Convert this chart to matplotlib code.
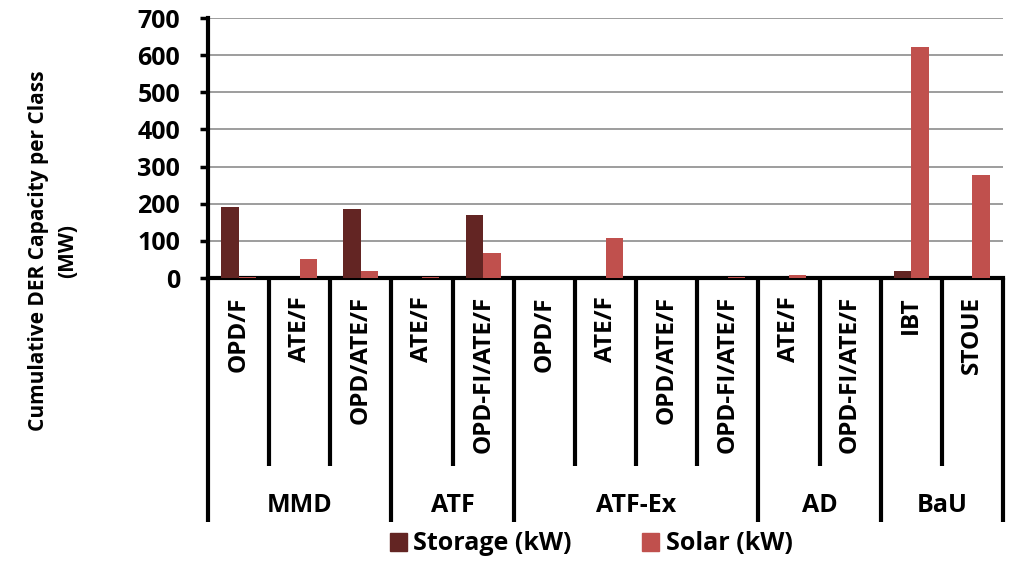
import matplotlib
matplotlib.use("Agg")
import matplotlib.pyplot as plt
import numpy as np
from matplotlib.patches import Patch

plt.rcParams['font.family'] = ['Open Sans', 'DejaVu Sans']

categories = ["OPD/F", "ATE/F", "OPD/ATE/F", "ATE/F", "OPD-FI/ATE/F",
              "OPD/F", "ATE/F", "OPD/ATE/F", "OPD-FI/ATE/F",
              "ATE/F", "OPD-FI/ATE/F", "IBT", "STOUE"]
groups = ["MMD", "ATF", "ATF-Ex", "AD", "BaU"]
group_sizes = [3, 2, 4, 2, 2]
storage = [190, 0, 186, 0, 169, 0, 0, 0, 0, 0, 0, 20, 0]
solar = [3, 50, 20, 3, 67, 0, 108, 0, 3, 9, 0, 622, 276]

c_storage = "#632523"
c_solar = "#C0504D"

fig = plt.figure(figsize=(10.24, 5.82), dpi=100)
ax = fig.add_axes([208/1024, 1-278/582, (1003-208)/1024, 260/582])

n = len(categories)
x = np.arange(n)
w = 0.285
ax.bar(x - w/2, storage, w, color=c_storage, zorder=3)
ax.bar(x + w/2, solar, w, color=c_solar, zorder=3)

ax.set_xlim(-0.5, n - 0.5)
ax.set_ylim(0, 700)
ax.set_yticks(range(0, 701, 100))
ax.yaxis.grid(True, color="#8c8c8c", linewidth=1.2, zorder=0)
ax.set_xticks([])
for s in ["top", "right"]:
    ax.spines[s].set_visible(False)
ax.spines["left"].set_linewidth(3)
ax.spines["bottom"].set_linewidth(3)
ax.tick_params(axis="y", length=6, width=2.5, labelsize=18, pad=14)
for lab in ax.get_yticklabels():
    lab.set_fontweight("bold")

tr = ax.get_xaxis_transform()
inner_bot = -(466-278)/260
outer_bot = -(522-278)/260
for i, c in enumerate(categories):
    ax.text(i, -(296-278)/260, c, rotation=90, ha="center", va="top",
            fontsize=17.5, fontweight="bold", transform=tr)
bounds = np.cumsum([0] + group_sizes)
for b in range(n + 1):
    xb = b - 0.5
    bottom = outer_bot if b in bounds else inner_bot
    ax.plot([xb, xb], [0, bottom], color="black", lw=3, transform=tr,
            clip_on=False, solid_capstyle="butt")
for g, s0, s1 in zip(groups, bounds[:-1], bounds[1:]):
    ax.text((s0 + s1 - 1) / 2, -(505-278)/260, g, ha="center", va="center",
            fontsize=18, fontweight="bold", transform=tr)

fig.text(53/1024, 1 - 251/582, "Cumulative DER Capacity per Class\n(MW)",
         rotation=90, ha="center", va="center", fontsize=15,
         fontweight="bold", multialignment="center", linespacing=1.55)

handles = [Patch(color=c_storage, label="Storage (kW)"),
           Patch(color=c_solar, label="Solar (kW)")]
fig.legend(handles=handles, loc="center", bbox_to_anchor=(591/1024, 1 - 544/582),
           ncol=2, frameon=False, prop={"size": 18, "weight": "bold"},
           handlelength=0.7, handleheight=0.7, handletextpad=0.25, columnspacing=2.8)

fig.savefig("out.png", dpi=100)
